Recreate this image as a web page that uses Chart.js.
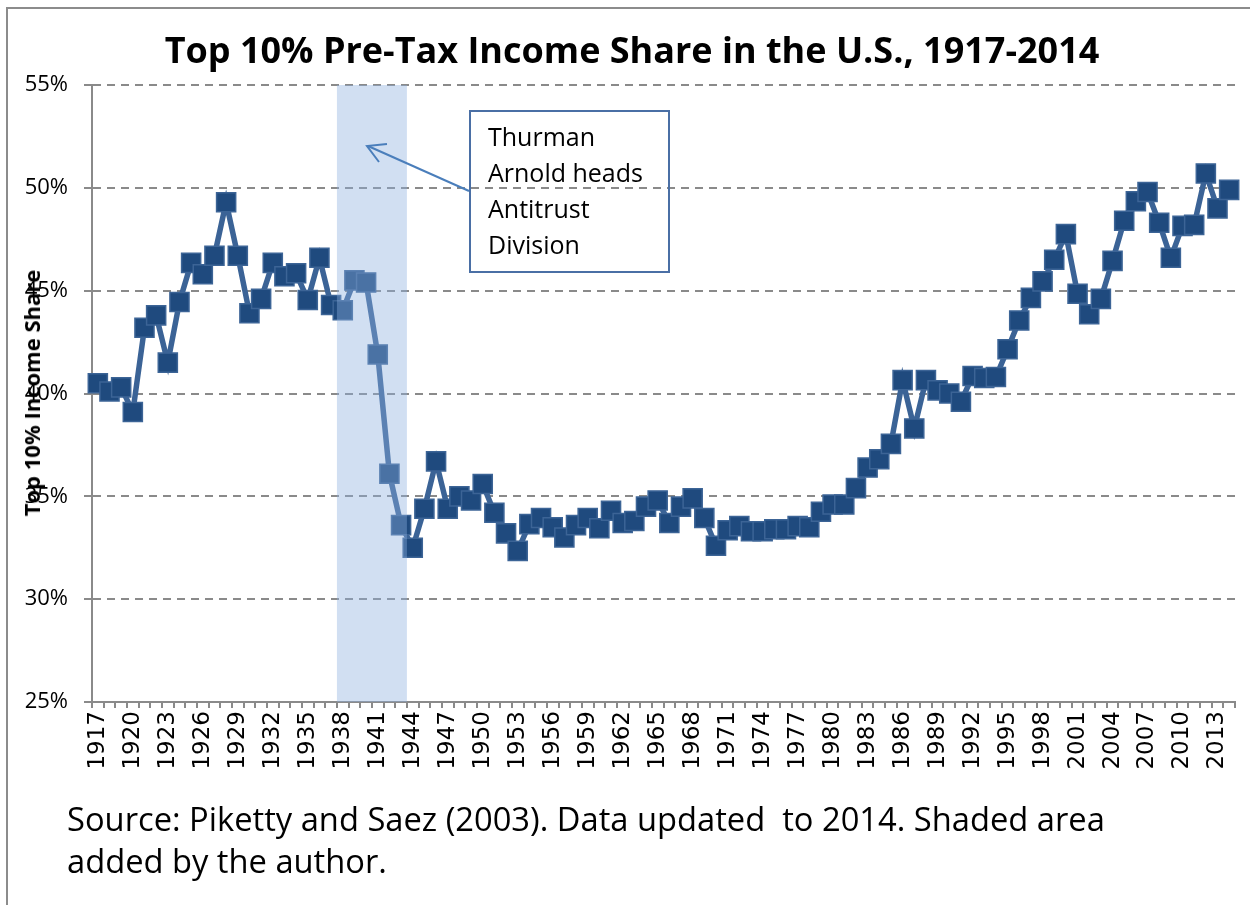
<!DOCTYPE html>
<html>
<head>
<meta charset="utf-8">
<script src="https://cdn.jsdelivr.net/npm/chart.js@4.4.1/dist/chart.umd.min.js"></script>
<style>
html,body{margin:0;padding:0;background:#fff;width:1250px;height:905px;overflow:hidden;}
#frame{position:absolute;left:6px;top:7px;width:1300px;height:1000px;border-left:2px solid #8c8c8c;border-top:2px solid #8c8c8c;}
#cv{position:absolute;left:0;top:0;}
#title{position:absolute;left:132px;width:1000px;top:30px;text-align:center;font-family:'Open Sans';font-weight:bold;font-size:36px;line-height:40px;color:#000;white-space:nowrap;}
#ytitle{position:absolute;left:31px;top:393px;transform:translate(-50%,-50%) rotate(-90deg);font-family:'Open Sans';font-weight:bold;font-size:22px;color:#000;white-space:nowrap;}
#box{position:absolute;left:469px;top:110px;width:197px;height:159px;border:2px solid #4a6fa5;background:transparent;}
#boxtext{position:absolute;left:488px;top:118px;font-family:'Open Sans';font-size:25px;line-height:36px;color:#000;white-space:nowrap;}
#source{position:absolute;left:67px;top:798px;font-family:'Open Sans';font-size:32.7px;line-height:42px;color:#000;white-space:nowrap;}
svg{position:absolute;left:0;top:0;pointer-events:none;}
</style>
</head>
<body>
<div id="frame"></div>
<canvas id="cv" width="1250" height="905"></canvas>
<div id="title">Top 10% Pre-Tax Income Share in the U.S., 1917-2014</div>
<div id="ytitle">Top 10% Income Share</div>
<div id="box"></div>
<div id="boxtext">Thurman<br>Arnold heads<br>Antitrust<br>Division</div>
<svg width="1250" height="905">
  <line x1="469" y1="191" x2="368" y2="146" stroke="#4a7ebb" stroke-width="2"/>
  <polyline points="387,144 367,146 379,162" fill="none" stroke="#4a7ebb" stroke-width="2"/>
</svg>
<div id="source">Source: Piketty and Saez (2003). Data updated&nbsp; to 2014. Shaded area<br>added by the author.</div>
<script>
const years = ['1917','1918','1919','1920','1921','1922','1923','1924','1925','1926',
'1927','1928','1929','1930','1931','1932','1933','1934','1935','1936',
'1937','1938','1939','1940','1941','1942','1943','1944','1945','1946',
'1947','1948','1949','1950','1951','1952','1953','1954','1955','1956',
'1957','1958','1959','1960','1961','1962','1963','1964','1965','1966',
'1967','1968','1969','1970','1971','1972','1973','1974','1975','1976',
'1977','1978','1979','1980','1981','1982','1983','1984','1985','1986',
'1987','1988','1989','1990','1991','1992','1993','1994','1995','1996',
'1997','1998','1999','2000','2001','2002','2003','2004','2005','2006',
'2007','2008','2009','2010','2011','2012','2013','2014'];

const top10Share = [40.5,40.1,40.3,39.1,43.2,43.8,41.5,44.45,46.35,45.8,
46.7,49.3,46.7,43.9,44.6,46.35,45.7,45.85,44.55,46.6,
44.3,44.05,45.5,45.4,41.9,36.1,33.6,32.5,34.4,36.7,
34.4,35.0,34.8,35.6,34.2,33.2,32.35,33.65,33.95,33.5,
33.0,33.6,33.95,33.45,34.3,33.7,33.8,34.5,34.8,33.7,
34.5,34.9,33.95,32.6,33.35,33.55,33.3,33.3,33.4,33.4,
33.55,33.5,34.25,34.6,34.6,35.4,36.4,36.8,37.55,40.65,
38.3,40.65,40.15,40.0,39.6,40.85,40.75,40.8,42.15,43.55,
44.65,45.45,46.5,47.75,44.85,43.85,44.6,46.45,48.4,49.35,
49.8,48.3,46.6,48.15,48.2,50.7,49.0,49.9];

const yTicks = [25, 30, 35, 40, 45, 50, 55];
const shadeFrom = '1938';
const shadeTo = '1943';

const shadePlugin = {
  id: 'shade',
  afterDatasetsDraw(chart) {
    const xs = chart.scales.x, ys = chart.scales.y, ctx = chart.ctx;
    const i0 = years.indexOf(shadeFrom), i1 = years.indexOf(shadeTo);
    const x0 = xs.getPixelForValue(i0 - 0.5);
    const x1 = xs.getPixelForValue(i1 + 0.5);
    ctx.save();
    ctx.fillStyle = 'rgba(140,175,222,0.40)';
    ctx.fillRect(x0, ys.top, x1 - x0, ys.bottom - ys.top);
    ctx.restore();
  }
};

new Chart(document.getElementById('cv'), {
  type: 'line',
  data: {
    labels: years,
    datasets: [{
      data: top10Share,
      borderColor: '#3b6396',
      borderWidth: 5.5,
      pointStyle: 'rect',
      pointRadius: 13.5,
      pointBackgroundColor: '#1f4a7e',
      pointBorderColor: '#3c6496',
      pointBorderWidth: 1.5,
      tension: 0,
      fill: false
    }]
  },
  options: {
    responsive: false,
    animation: false,
    devicePixelRatio: 1,
    layout: { padding: { top: 85, right: 13, left: 0, bottom: 113 } },
    plugins: { legend: { display: false }, tooltip: { enabled: false }, title: { display: false } },
    scales: {
      x: {
        type: 'category',
        offset: true,
        afterFit(s) { s.height = 90; s.paddingLeft = 0; s.paddingRight = 0; },
        grid: { display: true, drawOnChartArea: false, offset: true, drawTicks: true, tickLength: 6, color: '#8a8a8a', lineWidth: 2 },
        border: { display: true, color: '#8a8a8a', width: 2 },
        ticks: {
          autoSkip: false, maxRotation: 90, minRotation: 90, padding: 3,
          color: '#000', font: { family: '"DejaVu Sans"', size: 23 },
          callback(value, index) { return index % 3 === 0 ? years[index] : ''; }
        }
      },
      y: {
        min: 25, max: 55,
        afterFit(s) { s.width = 92; s.paddingTop = 0; s.paddingBottom = 0; },
        afterBuildTicks(s) { s.ticks = yTicks.map(v => ({ value: v })); },
        grid: { color: '#8a8a8a', lineWidth: 2, tickLength: 8, tickColor: '#8a8a8a', tickWidth: 2, tickBorderDash: [] },
        border: { display: true, color: '#8a8a8a', width: 2, dash: [8, 6] },
        ticks: {
          padding: 16, color: '#000', font: { family: 'Open Sans', size: 22 },
          callback(v) { return v + '%'; }
        }
      }
    }
  },
  plugins: [shadePlugin]
});
</script>
</body>
</html>
